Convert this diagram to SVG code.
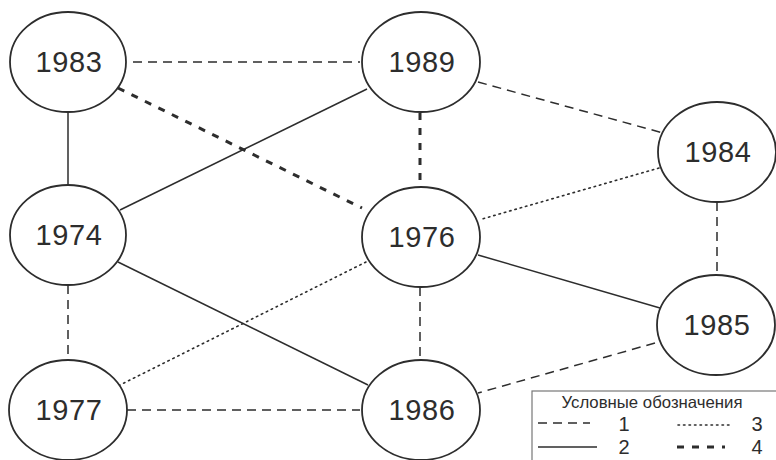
<svg xmlns="http://www.w3.org/2000/svg" width="776" height="460" viewBox="0 0 776 460">
<style>
.n ellipse{fill:#fff;stroke:#2d2d2d;stroke-width:1.8}
.n text{font-family:"Liberation Sans",Arial,sans-serif;font-size:29px;letter-spacing:0.6px;fill:#2d2d2d;text-anchor:middle}
.e{stroke:#2d2d2d;fill:none}
.t1{stroke-width:1.5;stroke-dasharray:9 6}
.t2{stroke-width:1.5}
.t3{stroke-width:1.6;stroke-dasharray:1.5 4;stroke-linecap:round}
.t4{stroke-width:3;stroke-dasharray:7 8}
.lg{font-family:"Liberation Sans",Arial,sans-serif;fill:#2d2d2d}
</style>
<rect width="776" height="460" fill="#fff"/>
<g id="connectors">
<line class="e t1" x1="133" y1="62" x2="360" y2="62"/>
<line class="e t4" x1="118" y1="88" x2="362" y2="208"/>
<line class="e t2" x1="68" y1="112" x2="68" y2="185"/>
<line class="e t2" x1="120" y1="210" x2="367" y2="89"/>
<line class="e t1" x1="478" y1="82" x2="663" y2="133"/>
<line class="e t4" x1="420" y1="113" x2="420" y2="186"/>
<line class="e t3" x1="659" y1="168" x2="482" y2="219"/>
<line class="e t1" x1="717" y1="202" x2="717" y2="275"/>
<line class="e t2" x1="478" y1="255" x2="660" y2="308"/>
<line class="e t1" x1="420" y1="287" x2="420" y2="360"/>
<line class="e t1" x1="655" y1="343" x2="478" y2="393"/>
<line class="e t1" x1="68" y1="285" x2="68" y2="360"/>
<line class="e t2" x1="118" y1="262" x2="368" y2="385"/>
<line class="e t3" x1="366" y1="262" x2="120" y2="385"/>
<line class="e t1" x1="127" y1="410" x2="360" y2="410"/>
</g>
<g id="n1983" class="n"><ellipse cx="68" cy="62" rx="58" ry="50"/><text x="69" y="72">1983</text></g>
<g id="n1989" class="n"><ellipse cx="421" cy="62" rx="59" ry="50"/><text x="422" y="72">1989</text></g>
<g id="n1984" class="n"><ellipse cx="717" cy="152" rx="59" ry="50"/><text x="718" y="162">1984</text></g>
<g id="n1974" class="n"><ellipse cx="68" cy="235" rx="58" ry="50"/><text x="69" y="245">1974</text></g>
<g id="n1976" class="n"><ellipse cx="421" cy="237" rx="59" ry="50"/><text x="422" y="247">1976</text></g>
<g id="n1985" class="n"><ellipse cx="716" cy="325" rx="59" ry="50"/><text x="717" y="335">1985</text></g>
<g id="n1977" class="n"><ellipse cx="68" cy="410" rx="59" ry="50"/><text x="69" y="420">1977</text></g>
<g id="n1986" class="n"><ellipse cx="421" cy="410" rx="59" ry="50"/><text x="422" y="420">1986</text></g>
<g id="legend">
<rect x="532" y="391" width="250" height="80" fill="#fff" stroke="#777" stroke-width="1.2"/>
<text class="lg" x="652" y="408" font-size="16.5" text-anchor="middle" textLength="181" lengthAdjust="spacingAndGlyphs">Условные обозначения</text>
<line class="e t1" x1="538" y1="423" x2="590" y2="423"/>
<text class="lg" x="624" y="431" font-size="20" text-anchor="middle">1</text>
<line class="e t3" x1="678" y1="425" x2="730" y2="425"/>
<text class="lg" x="757" y="431" font-size="20" text-anchor="middle">3</text>
<line class="e t2" x1="538" y1="447" x2="597" y2="447"/>
<text class="lg" x="624" y="454" font-size="20" text-anchor="middle">2</text>
<line class="e t4" x1="677" y1="447" x2="725" y2="447"/>
<text class="lg" x="757" y="454" font-size="20" text-anchor="middle">4</text>
</g>
</svg>
